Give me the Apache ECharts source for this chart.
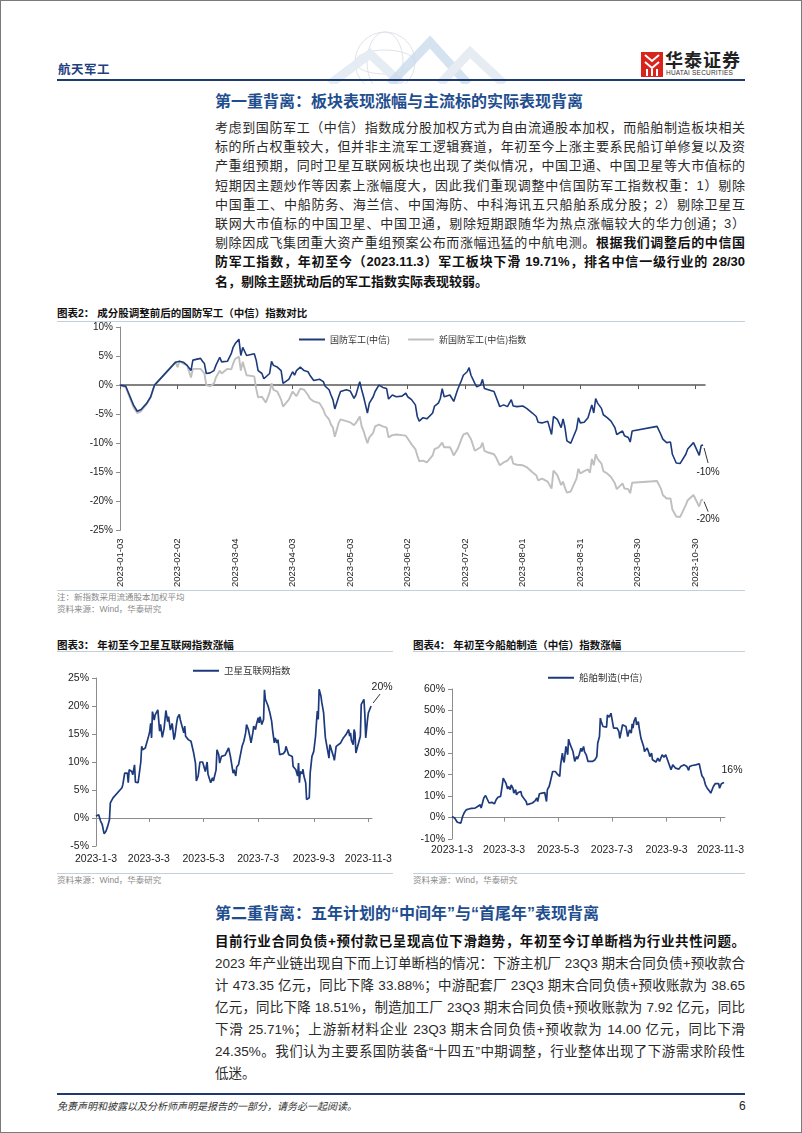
<!DOCTYPE html>
<html><head><meta charset="utf-8">
<script src="https://cdn.jsdelivr.net/npm/echarts@6/dist/echarts.min.js"></script>
<style>
body{margin:0;background:#fff;}
#page{position:relative;width:802px;height:1133px;overflow:hidden;font-family:"Liberation Sans","Noto Sans CJK SC",sans-serif;color:#222;background:#fff;}
.frame{position:absolute;left:0;top:0;width:802px;height:1133px;box-sizing:border-box;border:1.5px solid #7a7a7a;pointer-events:none;}
.a{position:absolute;white-space:nowrap;}
.ln{position:absolute;left:215px;width:530px;font-size:13px;line-height:19px;height:19px;text-align:justify;text-align-last:justify;color:#2a2a2a;}
.ln2{position:absolute;left:215px;width:530px;font-size:13.5px;line-height:21px;height:21px;text-align:justify;text-align-last:justify;color:#2a2a2a;}
.b{font-weight:bold;color:#111;}
.h1{position:absolute;left:215px;font-size:16px;font-weight:bold;color:#1f4e8f;line-height:20px;white-space:nowrap;}
.ct{position:absolute;font-size:10.5px;font-weight:bold;color:#111;line-height:14px;white-space:nowrap;}
.rule{position:absolute;height:1px;background:#c4cfdc;}
.src{position:absolute;font-size:8.5px;color:#8a8a8a;line-height:11px;white-space:nowrap;}
.chart{position:absolute;}
</style></head>
<body><div id="page">
<!-- header -->
<svg class="a" style="left:290px;top:28px;opacity:0.75" width="240" height="56">
  <g fill="none" stroke="#d5dbe2" stroke-width="1">
    <circle cx="95" cy="34" r="30"/><ellipse cx="95" cy="34" rx="18" ry="30"/><ellipse cx="95" cy="34" rx="30" ry="12"/>
  </g>
  <polyline points="40,56 80,26 112,56" fill="none" stroke="#dde6ef" stroke-width="9"/>
  <polyline points="100,56 140,14 178,56" fill="none" stroke="#b9cfe6" stroke-width="9" opacity="0.8"/>
  <polyline points="150,56 180,24 214,56" fill="none" stroke="#dfe6ee" stroke-width="9"/>
</svg>
<div class="a" style="left:58px;top:59px;font-size:12.5px;font-weight:bold;color:#1f3f7f;letter-spacing:0.5px;">航天军工</div>
<svg class="a" style="left:641px;top:52px" width="22" height="25">
  <rect x="0" y="0" width="22" height="25" fill="#d8241c"/>
  <path d="M4 3 L11 9 L18 3 M4 10 L11 16 L18 10" stroke="#fff" stroke-width="2" fill="none"/>
  <rect x="5" y="17" width="2" height="7" fill="#fff"/><rect x="10" y="17" width="2" height="7" fill="#fff"/><rect x="15" y="17" width="2" height="7" fill="#fff"/>
</svg>
<div class="a" style="left:665px;top:49px;font-size:18px;font-weight:bold;color:#222;font-family:'Noto Sans CJK SC';line-height:20px;letter-spacing:1px;">华泰证券</div>
<div class="a" style="left:666px;top:69px;font-size:6.5px;color:#333;line-height:8px;letter-spacing:0.2px;">HUATAI SECURITIES</div>
<div class="a" style="left:57px;top:79px;width:688px;height:2px;background:#1f3a6e;"></div>

<!-- section 1 -->
<div class="h1" style="top:92px;">第一重背离：板块表现涨幅与主流标的实际表现背离</div>
<div class="ln" style="top:118px;">考虑到国防军工（中信）指数成分股加权方式为自由流通股本加权，而船舶制造板块相关</div>
<div class="ln" style="top:137.2px;">标的所占权重较大，但并非主流军工逻辑赛道，年初至今上涨主要系民船订单修复以及资</div>
<div class="ln" style="top:156.4px;">产重组预期，同时卫星互联网板块也出现了类似情况，中国卫通、中国卫星等大市值标的</div>
<div class="ln" style="top:175.6px;">短期因主题炒作等因素上涨幅度大，因此我们重现调整中信国防军工指数权重：1）剔除</div>
<div class="ln" style="top:194.8px;">中国重工、中船防务、海兰信、中国海防、中科海讯五只船舶系成分股；2）剔除卫星互</div>
<div class="ln" style="top:214px;">联网大市值标的中国卫星、中国卫通，剔除短期跟随华为热点涨幅较大的华力创通；3）</div>
<div class="ln" style="top:233.2px;">剔除因成飞集团重大资产重组预案公布而涨幅迅猛的中航电测。<span class="b">根据我们调整后的中信国</span></div>
<div class="ln b" style="top:252.4px;">防军工指数，年初至今（2023.11.3）军工板块下滑 19.71%，排名中信一级行业的 28/30</div>
<div class="ln b" style="top:271.6px;text-align-last:left;">名，剔除主题扰动后的军工指数实际表现较弱。</div>

<!-- chart 2 block -->
<div class="ct" style="left:57px;top:306px;">图表2：&nbsp;成分股调整前后的国防军工（中信）指数对比</div>
<div class="rule" style="left:57px;top:321px;width:688px;"></div>
<div id="c1" class="chart" style="left:57px;top:322px;width:690px;height:268px;"></div>
<div class="rule" style="left:57px;top:590px;width:688px;"></div>
<div class="src" style="left:57px;top:592px;">注：新指数采用流通股本加权平均</div>
<div class="src" style="left:57px;top:604px;">资料来源：Wind，华泰研究</div>

<!-- charts 3 and 4 -->
<div class="ct" style="left:57px;top:638px;">图表3：&nbsp;年初至今卫星互联网指数涨幅</div>
<div class="rule" style="left:57px;top:651px;width:336px;"></div>
<div id="c2" class="chart" style="left:57px;top:656px;width:340px;height:216px;"></div>
<div class="rule" style="left:57px;top:873px;width:336px;"></div>
<div class="src" style="left:57px;top:875px;">资料来源：Wind，华泰研究</div>

<div class="ct" style="left:413px;top:638px;">图表4：&nbsp;年初至今船舶制造（中信）指数涨幅</div>
<div class="rule" style="left:413px;top:651px;width:332px;"></div>
<div id="c3" class="chart" style="left:413px;top:656px;width:334px;height:216px;"></div>
<div class="rule" style="left:413px;top:873px;width:332px;"></div>
<div class="src" style="left:413px;top:875px;">资料来源：Wind，华泰研究</div>

<!-- section 2 -->
<div class="h1" style="top:904px;">第二重背离：五年计划的“中间年”与“首尾年”表现背离</div>
<div class="ln2 b" style="top:930.5px;">目前行业合同负债+预付款已呈现高位下滑趋势，年初至今订单断档为行业共性问题。</div>
<div class="ln2" style="top:952.5px;">2023 年产业链出现自下而上订单断档的情况：下游主机厂 23Q3 期末合同负债+预收款合</div>
<div class="ln2" style="top:974.5px;">计 473.35 亿元，同比下降 33.88%；中游配套厂 23Q3 期末合同负债+预收账款为 38.65</div>
<div class="ln2" style="top:996.5px;">亿元，同比下降 18.51%，制造加工厂 23Q3 期末合同负债+预收账款为 7.92 亿元，同比</div>
<div class="ln2" style="top:1018.5px;">下滑 25.71%；上游新材料企业 23Q3 期末合同负债+预收款为 14.00 亿元，同比下滑</div>
<div class="ln2" style="top:1040.5px;">24.35%。我们认为主要系国防装备“十四五”中期调整，行业整体出现了下游需求阶段性</div>
<div class="ln2" style="top:1062.5px;text-align-last:left;">低迷。</div>

<!-- footer -->
<div class="a" style="left:57px;top:1093px;width:688px;height:2px;background:#1f3a6e;"></div>
<div class="a" style="left:57px;top:1100px;font-size:10px;font-style:italic;color:#333;line-height:13px;">免责声明和披露以及分析师声明是报告的一部分，请务必一起阅读。</div>
<div class="a" style="left:739px;top:1099px;font-size:12px;color:#222;line-height:14px;">6</div>
<div class="frame"></div>
</div>

<script>
// ---------- DATA ----------
// Chart 1: 国防军工(中信) vs 新国防军工(中信)指数, cumulative change % (2023)
const c1Dates = ['01-03','01-06','01-10','01-12','01-14','01-17','01-19','01-21','02-01','02-02',
'02-03','02-05','02-07','02-09','02-10','02-11','02-14','02-15','02-16','02-17',
'02-19','02-21','02-22','02-24','02-25','02-28','03-02','03-03','03-04','03-06',
'03-07','03-08','03-10','03-11','03-14','03-15','03-16','03-18','03-19','03-20',
'03-22','03-23','03-24','03-26','03-28','03-29','03-30','04-01','04-03','04-04',
'04-05','04-07','04-09','04-11','04-12','04-14','04-17','04-19','04-20','04-22',
'04-23','04-24','04-25','04-27','04-28','05-01','05-03','05-05','05-06','05-08',
'05-09','05-10','05-11','05-12','05-13','05-15','05-16','05-18','05-20','05-22',
'05-23','05-25','05-27','05-30','06-01','06-02','06-04','06-06','06-07','06-08',
'06-10','06-12','06-13','06-15','06-16','06-18','06-19','06-20','06-21','06-24',
'06-25','06-26','06-28','06-30','07-01','07-03','07-04','07-05','07-07','07-08',
'07-10','07-11','07-12','07-14','07-17','07-18','07-20','07-22','07-24','07-26',
'07-27','07-29','08-01','08-03','08-04','08-06','08-08','08-09','08-11','08-12',
'08-14','08-16','08-17','08-19','08-20','08-21','08-22','08-23','08-24','08-26',
'08-27','08-29','08-30','08-31','09-02','09-04','09-05','09-06','09-07','09-08',
'09-09','09-11','09-12','09-14','09-16','09-18','09-19','09-20','09-22','09-23',
'09-25','09-26','09-27','10-10','10-12','10-13','10-15','10-17','10-18','10-20',
'10-22','10-23','10-25','10-26','10-29','10-30','11-01','11-02','11-03'];
const c1Defense = [0,-0.2,-3.4,-4.5,-4.2,-3.1,-2.0,0,3.95,4.2,
4.1,3.95,3.4,2.5,4.3,4.0,4.6,4.1,3.7,2.0,
2.1,2.5,3.4,4.8,4.0,4.1,5.4,6.5,7.1,7.9,
5.1,6.5,5.1,4.9,5.4,4.3,2.5,2.0,1.1,0.8,
2.0,4.1,3.4,3.1,2.5,0.3,0,1.0,2.3,1.7,
2.5,3.1,2.5,2.3,1.7,0.8,1.0,0.6,-0.2,-0.8,
-1.7,-2.5,-4.1,-2.0,-1.1,-0.8,-1.0,-2.3,-1.7,0.6,
-0.8,-2.0,-3.4,-4.8,-3.1,-2.0,-1.1,0,-0.4,-0.6,
-2.4,-1.7,-2.0,-1.9,-1.4,-2.0,-2.5,-3.4,-5.4,-6.2,
-5.6,-5.8,-5.9,-4.8,-3.6,-3.1,-2.3,-0.6,-2.0,-1.7,
-2.0,-2.8,-0.8,0.8,1.7,2.3,3.0,1.7,0.3,-0.3,
0,1.0,-0.6,-0.8,-1.1,-1.1,-3.7,-3.4,-3.7,-2.5,
-3.6,-3.7,-3.6,-4.0,-4.0,-4.8,-5.4,-6.4,-6.5,-6.4,
-6.2,-8.5,-5.4,-5.9,-6.0,-7.3,-5.8,-7.3,-9.6,-10.0,
-9.9,-7.6,-5.6,-6.5,-6.4,-5.6,-5.9,-3.4,-4.8,-2.3,
-3.1,-4.0,-5.1,-5.6,-6.2,-7.3,-8.5,-8.6,-7.9,-8.7,
-9.0,-9.8,-7.9,-7.1,-8.5,-9.3,-9.9,-9.8,-11.9,-13.4,
-13.5,-13.5,-11.9,-11.0,-9.9,-10.2,-12.1,-10.4,-10.3];
const c1NewDefense = [0,-0.4,-3.8,-4.8,-4.5,-3.2,-2.1,0,3.95,3.1,
4.1,3.7,3.4,1.3,2.8,2.5,2.8,2.4,2.0,0,
-0.2,0.3,1.3,2.5,2.0,2.8,2.7,3.7,4.5,4.9,
2.5,4.0,1.7,1.9,1.5,-0.6,-2.1,-2.0,-2.5,-3.0,
-1.3,0.3,-0.8,-1.1,-2.5,-3.7,-3.4,-2.5,-1.1,-0.8,
-1.9,-0.6,-0.8,-1.7,-2.3,-2.8,-3.1,-4.2,-5.1,-5.9,
-6.8,-7.3,-8.9,-6.5,-5.9,-6.2,-6.4,-6.9,-6.5,-5.4,
-7.1,-7.9,-9.0,-10.0,-9.0,-8.2,-7.1,-6.8,-7.1,-7.3,
-9.0,-8.6,-8.5,-8.6,-8.7,-9.2,-10.2,-11.0,-12.1,-13.1,
-13.0,-13.3,-13.4,-12.1,-11.0,-10.7,-10.4,-9.9,-10.7,-10.7,
-11.3,-12.1,-11.0,-9.3,-8.5,-8.2,-8.1,-9.3,-11.3,-11.0,
-10.7,-9.9,-11.3,-11.6,-11.9,-12.4,-13.8,-13.3,-13.0,-12.2,
-13.5,-13.7,-13.8,-14.1,-14.3,-15.0,-15.5,-16.4,-16.1,-16.1,
-16.6,-17.8,-14.7,-15.5,-15.8,-17.2,-16.6,-17.7,-18.5,-18.3,
-18.1,-16.1,-14.4,-15.2,-14.8,-14.5,-15.1,-12.7,-13.8,-11.9,
-12.7,-13.5,-14.8,-15.2,-15.8,-16.9,-17.9,-17.8,-16.9,-17.8,
-17.9,-18.6,-16.8,-16.5,-17.8,-18.9,-19.5,-19.5,-21.4,-22.6,
-22.7,-22.6,-20.6,-19.8,-18.9,-19.2,-20.9,-19.8,-19.7];
const c1TickLabels = ['2023-01-03','2023-02-02','2023-03-04','2023-04-03','2023-05-03','2023-06-02',
'2023-07-02','2023-08-01','2023-08-31','2023-09-30','2023-10-30'];

// Chart 2: 卫星互联网指数
const c2Dates = ['01-03','01-06','01-08','01-10','01-12','01-14','01-16','01-18','01-19','01-22',
'02-01','02-02','02-04','02-07','02-08','02-09','02-12','02-13','02-15','02-16',
'02-19','02-20','02-22','02-23','02-24','02-27','03-01','03-03','03-04','03-05',
'03-06','03-07','03-09','03-10','03-12','03-13','03-15','03-16','03-18','03-20',
'03-22','03-24','03-25','03-27','03-29','03-31','04-01','04-03','04-04','04-06',
'04-07','04-09','04-11','04-12','04-13','04-16','04-18','04-19','04-21','04-22',
'04-24','04-25','04-27','04-29','05-02','05-04','05-05','05-07','05-08','05-10',
'05-11','05-13','05-14','05-17','05-18','05-20','05-21','05-23','05-25','05-27',
'05-29','05-31','06-02','06-03','06-05','06-06','06-08','06-09','06-11','06-13',
'06-15','06-17','06-19','06-20','06-22','06-24','06-25','06-27','06-28','06-30',
'07-01','07-03','07-04','07-05','07-07','07-09','07-10','07-11','07-13','07-14',
'07-16','07-18','07-19','07-21','07-22','07-24','07-25','07-27','07-29','07-31',
'08-02','08-03','08-05','08-06','08-08','08-10','08-11','08-13','08-14','08-16',
'08-17','08-18','08-19','08-21','08-22','08-23','08-25','08-26','08-28','08-29',
'08-30','09-01','09-02','09-03','09-05','09-06','09-07','09-08','09-09','09-11',
'09-12','09-14','09-15','09-16','09-18','09-20','09-21','09-23','09-25','09-26',
'09-28','09-30','10-03','10-06','10-09','10-12','10-13','10-14','10-15','10-17',
'10-18','10-19','10-20','10-22','10-23','10-25','10-26','10-27','10-28','10-29',
'10-30','10-31','11-02','11-03','11-06'];
const c2Satellite = [0.3,0.6,-0.5,-1.2,-2.8,-2.4,-1.5,-0.3,2.7,3.6,
5.4,6.0,8.0,8.0,6.3,8.6,8.3,7.7,9.5,6.4,
6.3,6.5,10.0,12.8,12.2,12.5,12.8,14.8,15.5,16.9,
14.3,19.0,17.5,18.4,18.1,19.3,15.5,16.7,14.4,16.0,
19.2,17.2,18.1,15.7,16.9,14.0,14.6,17.0,17.9,18.5,
17.6,16.4,15.2,16.4,14.6,14.0,14.3,13.7,14.0,11.6,
9.8,6.6,7.5,10.0,10.0,9.8,8.3,10.0,7.8,8.1,
6.3,7.2,6.6,8.6,12.2,11.3,9.8,11.0,10.7,11.2,
10.9,12.5,11.0,11.3,8.0,8.6,7.5,9.1,9.5,9.8,
12.8,13.7,15.2,16.7,15.8,14.3,13.4,15.2,16.4,15.8,
16.7,17.9,17.0,18.1,16.7,17.6,22.9,21.2,21.5,20.0,
18.8,17.3,15.8,13.4,14.3,13.4,14.0,11.3,11.3,11.5,
11.9,12.8,12.7,11.3,11.0,11.0,9.2,9.5,8.6,7.5,
9.8,6.3,8.3,7.9,8.7,7.5,6.3,3.3,3.3,3.6,
8.0,11.0,10.7,11.9,14.6,17.0,19.1,17.6,23.0,21.8,
20.6,18.8,16.4,14.3,14.0,10.7,13.1,12.8,11.0,10.3,
12.8,13.1,13.4,14.3,14.9,15.8,14.6,15.2,13.9,13.1,
15.8,15.2,11.6,12.8,13.4,14.6,20.3,20.0,20.5,21.2,
18.5,14.3,17.6,18.8,20.0];

// Chart 3: 船舶制造(中信)
const c3Dates = ['01-03','01-04','01-06','01-08','01-09','01-11','01-13','01-14','01-15','01-17',
'01-19','01-22','01-25','01-29','02-01','02-02','02-04','02-05','02-07','02-08',
'02-10','02-12','02-14','02-15','02-17','02-20','02-22','02-24','02-26','02-27',
'03-01','03-02','03-04','03-05','03-07','03-08','03-10','03-11','03-13','03-14',
'03-16','03-17','03-19','03-20','03-22','03-23','03-25','03-28','03-29','04-01',
'04-04','04-07','04-09','04-10','04-12','04-14','04-15','04-17','04-18','04-20',
'04-21','04-23','04-24','04-26','04-27','04-28','04-30','05-02','05-04','05-05',
'05-06','05-08','05-09','05-10','05-12','05-14','05-15','05-17','05-19','05-20',
'05-22','05-24','05-25','05-27','05-29','05-30','06-01','06-02','06-04','06-06',
'06-08','06-11','06-14','06-16','06-17','06-19','06-20','06-21','06-23','06-25',
'06-27','06-28','06-30','07-02','07-04','07-05','07-07','07-09','07-11','07-12',
'07-14','07-15','07-17','07-19','07-21','07-23','07-25','07-26','07-27','07-28',
'07-30','07-31','08-02','08-03','08-05','08-06','08-08','08-09','08-11','08-12',
'08-14','08-15','08-17','08-18','08-20','08-22','08-24','08-26','08-28','08-29',
'08-31','09-02','09-04','09-06','09-08','09-10','09-11','09-13','09-15','09-17',
'09-19','09-21','09-23','09-25','09-26','09-28','09-29','10-02','10-06','10-10',
'10-11','10-13','10-15','10-17','10-19','10-21','10-23','10-25','10-26','10-28',
'10-30','11-01','11-02','11-04','11-06','11-07'];
const c3Shipbuilding = [0.5,1.0,-0.2,-1.0,-2.2,-2.9,-2.6,-1.8,0.5,2.4,
3.6,4.0,4.3,4.4,5.2,4.9,6.0,4.4,5.2,9.1,
10.3,10.6,6.8,6.3,7.1,6.4,8.3,9.5,9.1,9.9,
15.3,18.4,18.7,16.1,13.3,14.5,13.0,15.3,13.7,11.4,
13.0,10.6,11.7,12.5,12.2,10.3,9.1,7.5,6.0,6.4,
6.8,7.8,9.1,7.5,11.1,10.6,11.4,10.5,11.7,7.5,
13.0,14.5,16.1,15.3,21.5,21.0,21.5,20.4,21.0,19.2,
24.6,30.1,27.0,25.7,33.2,29.3,36.6,33.9,31.9,30.8,
26.2,28.5,27.3,29.3,32.4,30.8,33.2,30.8,29.3,26.2,
25.7,26.2,27.0,28.5,34.7,37.8,46.4,44.8,42.5,43.3,
42.2,47.9,46.8,48.7,48.7,41.7,41.4,41.7,40.1,37.0,
40.9,43.3,44.0,42.5,37.8,40.9,39.4,43.7,41.7,44.8,
46.8,43.3,44.8,41.7,37.0,36.2,33.2,30.8,31.6,32.4,
30.1,28.5,30.1,27.0,26.2,25.9,27.7,26.2,27.0,29.3,
28.2,29.3,27.0,26.2,22.3,24.6,25.4,23.1,23.5,22.6,
23.8,23.1,24.6,23.8,23.8,22.0,23.8,24.3,24.6,25.1,
23.1,19.5,18.4,15.3,13.7,12.7,11.4,12.2,14.5,15.8,
15.3,15.8,13.7,15.8,15.9,16.4];
const c23TickLabels = ['2023-01-03','2023-03-03','2023-05-03','2023-07-03','2023-09-03','2023-11-03'];

// ---------- helpers ----------
const BASE = Date.UTC(2023,0,3), DAY = 86400000;
function dayOf(s){ const p = s.split('-').map(Number); const m = p.length===3?p[1]:p[0], d = p.length===3?p[2]:p[1]; return Math.round((Date.UTC(2023,m-1,d)-BASE)/DAY); }
function fmt(v,pad){ const t=new Date(BASE+Math.round(v)*DAY); const y=t.getUTCFullYear(),m=t.getUTCMonth()+1,d=t.getUTCDate();
  return pad? y+'-'+String(m).padStart(2,'0')+'-'+String(d).padStart(2,'0') : y+'-'+m+'-'+d; }
function pairs(dates, vals){ return dates.map((d,i)=>[dayOf(d), vals[i]]); }
const BLUE = '#1c3a7c', GRAY = '#bfbfbf';
const NUMFONT = 'Liberation Sans';
const CJK = 'Noto Sans CJK SC';

// ---------- chart 1 ----------
const c1 = echarts.init(document.getElementById('c1'), null, {renderer:'canvas'});
const c1Ticks = c1TickLabels.map(dayOf);
const s1a = pairs(c1Dates, c1Defense), s1b = pairs(c1Dates, c1NewDefense);
c1.setOption({
  animation:false,
  grid:{left:63,right:42,top:4,bottom:57},
  legend:{left:237,top:8,itemWidth:26,itemHeight:2,itemGap:18,icon:'rect',
    textStyle:{fontSize:9,color:'#333',fontFamily:CJK},data:['国防军工(中信)','新国防军工(中信)指数']},
  xAxis:[
    {type:'value',min:0,max:305,position:'bottom',axisLine:{show:false,onZero:false},axisTick:{show:false},splitLine:{show:false},
     axisLabel:{customValues:c1Ticks,rotate:90,fontSize:9.5,color:'#222',fontFamily:NUMFONT,margin:8,formatter:v=>fmt(v,true)}},
    {type:'value',min:0,max:305,position:'bottom',axisLine:{show:true,onZero:true,lineStyle:{color:'#595959',width:1.5}},
     axisTick:{show:true,customValues:c1Ticks,length:4,lineStyle:{color:'#595959'}},axisLabel:{show:false},splitLine:{show:false}}
  ],
  yAxis:{type:'value',min:-25,max:10,interval:5,axisLine:{show:true,lineStyle:{color:'#8c8c8c'}},
    axisTick:{show:true,length:4,lineStyle:{color:'#8c8c8c'}},splitLine:{show:false},
    axisLabel:{formatter:'{value}%',fontSize:10,color:'#222',fontFamily:NUMFONT,margin:7}},
  series:[
    {name:'新国防军工(中信)指数',type:'line',data:s1b,showSymbol:false,symbol:'none',lineStyle:{color:GRAY,width:1.9},itemStyle:{color:GRAY},z:2},
    {name:'国防军工(中信)',type:'line',data:s1a,showSymbol:false,symbol:'none',lineStyle:{color:BLUE,width:1.6},itemStyle:{color:BLUE},z:3}
  ]
});
(function(){
  const la = s1a[s1a.length-1], lb = s1b[s1b.length-1];
  const pa = c1.convertToPixel({xAxisIndex:0,yAxisIndex:0}, la);
  const pb = c1.convertToPixel({xAxisIndex:0,yAxisIndex:0}, lb);
  const tf = '10px '+NUMFONT;
  c1.setOption({graphic:[
    {type:'line',shape:{x1:pa[0]+1,y1:pa[1]+3,x2:pa[0]+5,y2:pa[1]+18},style:{stroke:'#333',lineWidth:1}},
    {type:'text',x:pa[0]+5,y:pa[1]+27,style:{text:Math.round(la[1])+'%',fill:'#222',font:tf,align:'center',verticalAlign:'middle'}},
    {type:'line',shape:{x1:pb[0]+1,y1:pb[1]+2,x2:pb[0]+5,y2:pb[1]+12},style:{stroke:'#333',lineWidth:1}},
    {type:'text',x:pb[0]+5,y:pb[1]+20,style:{text:Math.round(lb[1])+'%',fill:'#222',font:tf,align:'center',verticalAlign:'middle'}}
  ]});
})();

// ---------- charts 2 & 3 ----------
const c23Ticks = c23TickLabels.map(dayOf);
function smallChart(el, name, dates, vals, ymin, ymax, step, grid, legendPos, xmax, lblMargin, endLabel){
  const ch = echarts.init(document.getElementById(el), null, {renderer:'canvas'});
  const s = pairs(dates, vals);
  ch.setOption({
    animation:false,
    grid:grid,
    legend:{left:legendPos[0],top:legendPos[1],itemWidth:26,itemHeight:2,icon:'rect',
      textStyle:{fontSize:9.5,color:'#333',fontFamily:CJK},data:[name]},
    xAxis:[
      {type:'value',min:0,max:xmax,position:'bottom',axisLine:{show:false,onZero:false},axisTick:{show:false},splitLine:{show:false},
       axisLabel:{customValues:c23Ticks,fontSize:10.5,color:'#222',fontFamily:NUMFONT,margin:lblMargin,formatter:v=>fmt(v,false)}},
      {type:'value',min:0,max:xmax,position:'bottom',axisLine:{show:true,onZero:true,lineStyle:{color:'#8c8c8c'}},
       axisTick:{show:true,customValues:c23Ticks,length:4,lineStyle:{color:'#8c8c8c'}},axisLabel:{show:false},splitLine:{show:false}}
    ],
    yAxis:{type:'value',min:ymin,max:ymax,interval:step,axisLine:{show:true,lineStyle:{color:'#8c8c8c'}},
      axisTick:{show:true,length:4,lineStyle:{color:'#8c8c8c'}},splitLine:{show:false},
      axisLabel:{formatter:'{value}%',fontSize:10.5,color:'#222',fontFamily:NUMFONT,margin:7}},
    series:[{name:name,type:'line',data:s,showSymbol:false,symbol:'none',lineStyle:{color:BLUE,width:1.7},itemStyle:{color:BLUE}}]
  });
  const last = s[s.length-1];
  const p = ch.convertToPixel({xAxisIndex:0,yAxisIndex:0}, last);
  const g = [];
  if (endLabel.leader) g.push({type:'line',shape:{x1:p[0]+2,y1:p[1]-3,x2:p[0]+9,y2:p[1]-12},style:{stroke:'#333',lineWidth:1}});
  g.push({type:'text',x:p[0]+endLabel.dx,y:p[1]+endLabel.dy,style:{text:Math.round(last[1])+'%',fill:'#222',font:'10.5px '+NUMFONT,align:'center',verticalAlign:'middle'}});
  ch.setOption({graphic:g});
}
smallChart('c2','卫星互联网指数',c2Dates,c2Satellite,-5,25,5,{left:39,right:25,top:22,bottom:26},[131,5],308,8,{leader:true,dx:11,dy:-19});
smallChart('c3','船舶制造(中信)',c3Dates,c3Shipbuilding,-10,60,10,{left:39,right:21,top:33,bottom:33},[130,12],309,6,{leader:false,dx:8,dy:-12});
</script>
</body></html>
